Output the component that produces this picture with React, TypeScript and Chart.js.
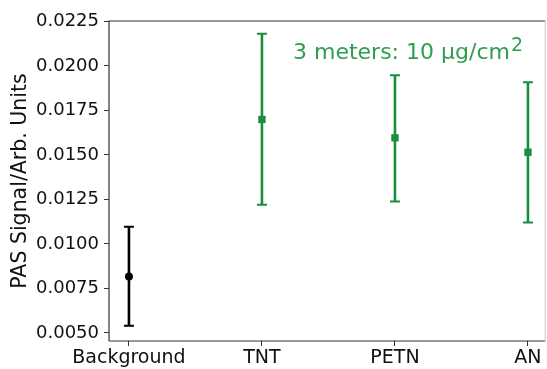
import React, { useEffect, useRef } from "react";
import { Chart, registerables } from "chart.js";

Chart.register(...registerables);

const categories = ["Background", "TNT", "PETN", "AN"];
const means = [0.00817, 0.01699, 0.01596, 0.01515];
const lows = [0.0054, 0.0122, 0.01238, 0.01121];
const highs = [0.01097, 0.0218, 0.01947, 0.01908];
const yTicks = [0.005, 0.0075, 0.01, 0.0125, 0.015, 0.0175, 0.02, 0.0225];
const annotationText = "3 meters: 10 µg/cm";
const annotationSup = "2";

const X_MIN = -0.15;
const X_MAX = 3.104;
const X_FRAME_RIGHT = 3.13;

const GREEN = "#1b8d3e";
const TEXT_GREEN = "#2e9d50";
const FONT = '"DejaVu Sans", sans-serif';

export default function App() {
  const ref = useRef<HTMLCanvasElement | null>(null);

  useEffect(() => {
    document.body.style.margin = "0";
    const canvas = ref.current;
    if (!canvas) return;
    const colors = categories.map((_, i) => (i === 0 ? "#000000" : GREEN));

    const errorBars = {
      id: "errorBars",
      beforeDatasetsDraw(chart: any) {
        const { ctx, scales, chartArea } = chart;
        const xs = scales.x;
        const ys = scales.y;
        const rightX = xs.getPixelForValue(X_FRAME_RIGHT);
        ctx.save();
        ctx.strokeStyle = "#333";
        ctx.lineWidth = 1.2;
        ctx.beginPath();
        ctx.moveTo(chartArea.left, chartArea.bottom);
        ctx.lineTo(chartArea.left, chartArea.top);
        ctx.lineTo(rightX, chartArea.top);
        ctx.moveTo(chartArea.left, chartArea.bottom);
        ctx.lineTo(rightX, chartArea.bottom);
        ctx.stroke();
        ctx.strokeStyle = "#d0d0d0";
        ctx.beginPath();
        ctx.moveTo(rightX, chartArea.top);
        ctx.lineTo(rightX, chartArea.bottom);
        ctx.stroke();
        categories.forEach((_, i) => {
          const x = xs.getPixelForValue(i);
          const yl = ys.getPixelForValue(lows[i]);
          const yh = ys.getPixelForValue(highs[i]);
          ctx.strokeStyle = colors[i];
          ctx.lineWidth = 2.6;
          ctx.beginPath();
          ctx.moveTo(x, yl);
          ctx.lineTo(x, yh);
          ctx.stroke();
          ctx.lineWidth = 2;
          ctx.beginPath();
          ctx.moveTo(x - 5, yl);
          ctx.lineTo(x + 5, yl);
          ctx.moveTo(x - 5, yh);
          ctx.lineTo(x + 5, yh);
          ctx.stroke();
        });
        ctx.restore();
      },
      afterDraw(chart: any) {
        const { ctx } = chart;
        ctx.save();
        ctx.fillStyle = TEXT_GREEN;
        ctx.textBaseline = "alphabetic";
        ctx.textAlign = "left";
        ctx.font = `22px ${FONT}`;
        const x0 = 293;
        const y0 = 59;
        ctx.fillText(annotationText, x0, y0);
        const w = ctx.measureText(annotationText).width;
        ctx.font = `19px ${FONT}`;
        ctx.fillText(annotationSup, x0 + w + 1, y0 - 8);
        ctx.restore();
      },
    };

    const chart = new Chart(canvas, {
      type: "scatter",
      data: {
        datasets: [
          {
            data: categories.map((_, i) => ({ x: i, y: means[i] })),
            pointStyle: categories.map((_, i) => (i === 0 ? "circle" : "rect")) as any,
            pointRadius: categories.map((_, i) => (i === 0 ? 4 : 5.2)),
            pointBackgroundColor: colors,
            pointBorderColor: colors,
            pointBorderWidth: 0,
            showLine: false,
            clip: false as any,
          },
        ],
      },
      options: {
        responsive: false,
        animation: false,
        layout: { padding: { top: 21, right: 2, left: 0, bottom: 0 } },
        plugins: {
          legend: { display: false },
          tooltip: { enabled: false },
        },
        scales: {
          x: {
            type: "linear",
            min: X_MIN,
            max: X_MAX,
            afterBuildTicks: (s: any) => {
              s.ticks = categories.map((_, i) => ({ value: i }));
            },
            afterFit: (s: any) => {
              s.height = 28;
              s.paddingLeft = 0;
              s.paddingRight = 0;
            },
            border: { display: false },
            grid: {
              drawOnChartArea: false,
              drawTicks: true,
              tickLength: 5,
              tickColor: "#333",
              lineWidth: 1,
            },
            ticks: {
              autoSkip: false,
              maxRotation: 0,
              padding: 1,
              color: "#111",
              font: { family: FONT, size: 19 },
              callback: (v: any) => categories[Number(v)] ?? "",
            },
          },
          y: {
            type: "linear",
            min: 0.00455,
            max: 0.02252,
            afterBuildTicks: (s: any) => {
              s.ticks = yTicks.map((v) => ({ value: v }));
            },
            afterFit: (s: any) => {
              s.width = 109;
              s.paddingTop = 0;
              s.paddingBottom = 0;
            },
            border: { display: false },
            grid: {
              drawOnChartArea: false,
              drawTicks: true,
              tickLength: 5,
              tickColor: "#333",
              lineWidth: 1,
            },
            ticks: {
              padding: 5,
              color: "#111",
              font: { family: FONT, size: 18 },
              callback: (v: any) => Number(v).toFixed(4),
            },
            title: {
              display: true,
              text: "PAS Signal/Arb. Units",
              color: "#111",
              font: { family: FONT, size: 20.5 },
              padding: { top: 8, bottom: 0 },
            },
          },
        },
      },
      plugins: [errorBars],
    });
    return () => chart.destroy();
  }, []);

  return (
    <div style={{ width: 547, height: 369, background: "#fff" }}>
      <canvas ref={ref} width={547} height={369} style={{ display: "block" }} />
    </div>
  );
}
